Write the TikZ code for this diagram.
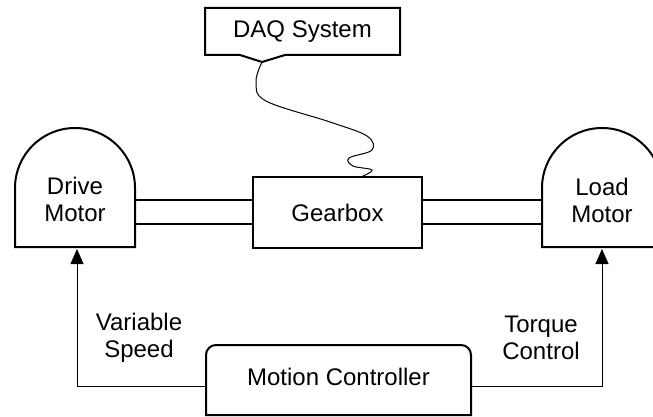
\documentclass[tikz,border=0pt]{standalone}
\usepackage{fontspec}
\setmainfont{Liberation Sans}
\usetikzlibrary{arrows.meta}
\begin{document}
\begin{tikzpicture}[x=1pt,y=-1pt,
  font=\fontsize{24}{27}\selectfont,
  outline/.style={line width=2pt, line join=miter},
  signal/.style={line width=1pt, -{Triangle[length=15pt,width=13pt]}},
  label/.style={inner sep=0pt, align=center}]
\useasboundingbox (0,0) rectangle (653,417);
% DAQ system box with notch
\draw[outline] (205,8) -- (400,8) -- (400,55) -- (285,55) -- (262,62) -- (240,55) -- (205,55) -- cycle;
\node[label] (daq) at (302.5,32) {DAQ System};
\coordinate (daqtip) at (262,62);
% Gearbox
\draw[outline] (253,177) rectangle (422,248);
\node[label] (gb) at (337.5,212.5) {Gearbox};
\coordinate (gbtop) at (361,177);
% cable
\draw[line width=1pt] plot[smooth, tension=0.6] coordinates {(daqtip) (256,82) (266,101) (330,122) (367,136) (372,150) (349,158) (353,166) (372,170) (gbtop)};
% Drive motor
\draw[outline] (15,247) -- (15,188) arc[start angle=180, end angle=360, radius=60] -- (135,247) -- cycle;
\node[label] (dm) at (75,199) {Drive\\Motor};
\coordinate (dmb) at (77,249);
% Load motor
\draw[outline] (542,247) -- (542,188) arc[start angle=180, end angle=360, radius=60] -- (662,247) -- cycle;
\node[label] (lm) at (602,200) {Load\\Motor};
\coordinate (lmb) at (602,249);
% Shafts
\draw[outline] (135,200) -- (253,200) (135,224) -- (253,224);
\draw[outline] (422,200) -- (542,200) (422,224) -- (542,224);
% Motion controller
\draw[outline] (206,415) -- (206,355) arc[start angle=180, end angle=270, radius=10] -- (461,345) arc[start angle=270, end angle=360, radius=10] -- (471,415) -- cycle;
\node[label] (mc) at (338.5,377) {Motion Controller};
\coordinate (mcw) at (206,386);
\coordinate (mce) at (471,386);
% signals
\draw[signal] (mcw) -| (dmb);
\draw[signal] (mce) -| (lmb);
\node[label] (vs) at (139,338) {Variable\\Speed};
\node[label] (tc) at (541,338) {Torque\\Control};
\end{tikzpicture}
\end{document}
